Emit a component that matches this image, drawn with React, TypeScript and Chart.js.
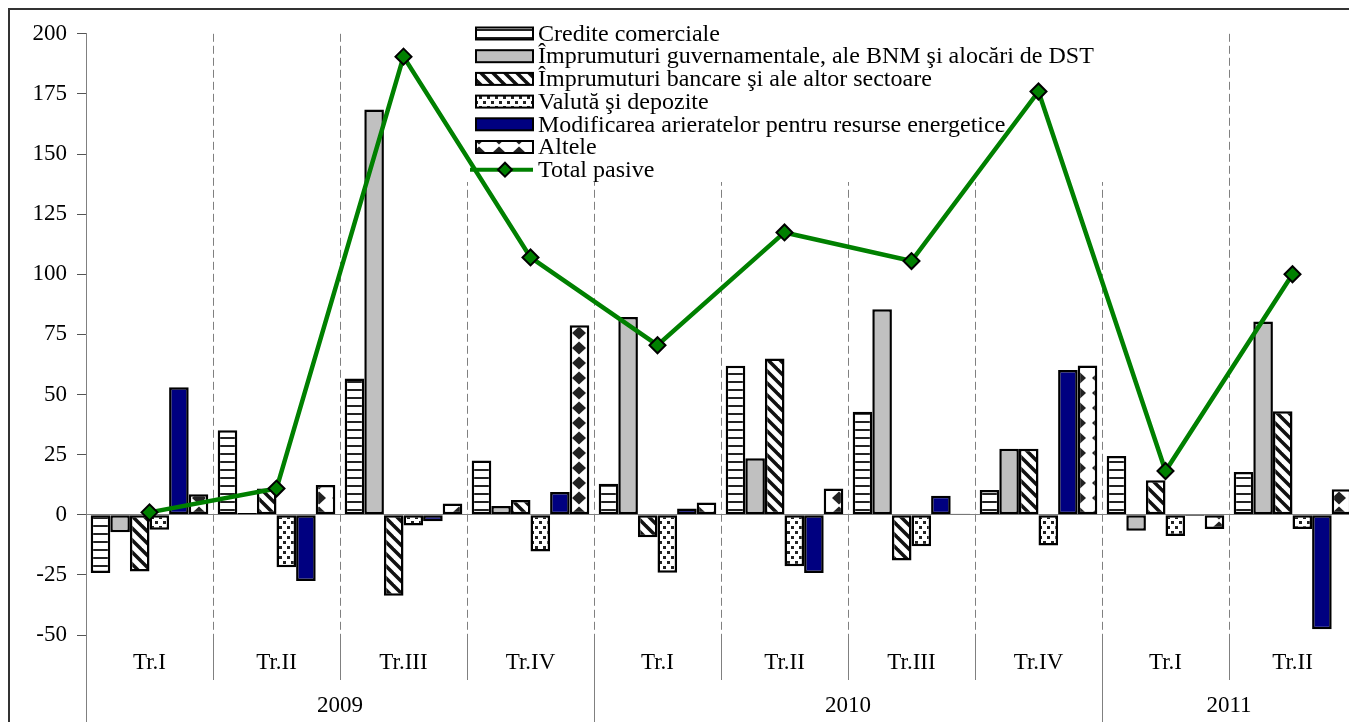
import React, { useEffect, useRef } from 'react';
import { Chart, registerables } from 'chart.js';

Chart.register(...registerables);

// ---------------- data ----------------
const quarters = ['Tr.I', 'Tr.II', 'Tr.III', 'Tr.IV', 'Tr.I', 'Tr.II', 'Tr.III', 'Tr.IV', 'Tr.I', 'Tr.II'];
const years = ['2009', '2010', '2011'];
const yearQuarterCounts = [4, 4, 2];

const crediteComerciale = [-24.2, 35.1, 56.7, 22.6, 12.9, 62.0, 42.8, 10.3, 24.4, 17.8];
const imprumuturiGuvernamentale = [-7.3, 0.7, 168.5, 3.6, 82.2, 23.5, 85.5, 27.4, -6.6, 80.4];
const imprumuturiBancare = [-23.6, 10.9, -33.7, 6.1, -9.4, 65.0, -19.0, 27.4, 14.3, 43.0];
const valutaDepozite = [-6.2, -21.8, -4.5, -15.3, -24.1, -21.4, -13.1, -12.8, -8.8, -5.9];
const modificareaArieratelor = [53.0, -27.5, -2.7, 9.5, 2.6, -24.2, 7.9, 60.2, -0.5, -47.6];
const altele = [8.5, 12.4, 4.7, 78.8, 5.1, 10.9, 0.4, 62.1, -5.9, 10.6];
const totalPasive = [1.0, 10.9, 190.5, 107.0, 70.5, 117.4, 105.5, 176.0, 18.2, 100.0];

const yMin = -50;
const yMax = 200;
const yStep = 25;

const seriesLabels = [
  'Credite comerciale',
  'Împrumuturi guvernamentale, ale BNM şi alocări de DST',
  'Împrumuturi bancare şi ale altor sectoare',
  'Valută şi depozite',
  'Modificarea arieratelor pentru resurse energetice',
  'Altele',
];
const lineLabel = 'Total pasive';

const FONT = "'Liberation Serif', 'Times New Roman', serif";

// ---------------- patterns ----------------
function tile(w: number, h: number, draw: (c: CanvasRenderingContext2D) => void): CanvasPattern {
  const cv = document.createElement('canvas');
  cv.width = w;
  cv.height = h;
  const c = cv.getContext('2d')!;
  c.fillStyle = '#fff';
  c.fillRect(0, 0, w, h);
  draw(c);
  const main = document.createElement('canvas').getContext('2d')!;
  return main.createPattern(cv, 'repeat')!;
}

function makePatterns() {
  const hlines = tile(8, 8, (c) => {
    c.fillStyle = '#222';
    c.fillRect(0, 3, 8, 2);
  });
  const diag = tile(12, 12, (c) => {
    c.strokeStyle = '#111';
    c.lineWidth = 3.5;
    for (const k of [-12, 0, 12]) {
      c.beginPath();
      c.moveTo(-2, k - 2);
      c.lineTo(14, k + 14);
      c.stroke();
    }
  });
  const dots = tile(8, 10, (c) => {
    c.fillStyle = '#222';
    c.fillRect(1, 1, 3, 3);
    c.fillRect(5, 6, 3, 3);
  });
  const diamonds = tile(20, 15, (c) => {
    c.fillStyle = '#222';
    c.beginPath();
    c.moveTo(9, 1.5);
    c.lineTo(16, 8);
    c.lineTo(9, 14.5);
    c.lineTo(2, 8);
    c.closePath();
    c.fill();
  });
  return [hlines, '#C0C0C0', diag, dots, '#000080', diamonds] as (string | CanvasPattern)[];
}

// ---------------- component ----------------
export default function App() {
  const ref = useRef<HTMLCanvasElement>(null);

  useEffect(() => {
    const canvas = ref.current!;
    const fills = makePatterns();
    const barSeries = [
      crediteComerciale,
      imprumuturiGuvernamentale,
      imprumuturiBancare,
      valutaDepozite,
      modificareaArieratelor,
      altele,
    ];

    const decor = {
      id: 'decor',
      beforeDatasetsDraw(chart: any) {
        const { ctx, chartArea: a } = chart;
        const n = quarters.length;
        const cw = (a.right - a.left) / n;
        ctx.save();
        // dashed category separators
        ctx.strokeStyle = '#808080';
        ctx.lineWidth = 1;
        ctx.setLineDash([8, 4]);
        for (let i = 1; i < n; i++) {
          const xx = Math.round(a.left + i * cw) + 0.5;
          ctx.beginPath();
          ctx.moveTo(xx, a.top);
          ctx.lineTo(xx, a.bottom);
          ctx.stroke();
        }
        ctx.setLineDash([]);

        // legend
        const lx = 466;
        const ly0 = 23.5;
        const dy = 22.7;
        ctx.fillStyle = '#fff';
        ctx.fillRect(lx - 14, 6, 1100 - lx + 14, 166);
        ctx.font = `24px ${FONT}`;
        ctx.textBaseline = 'middle';
        ctx.textAlign = 'left';
        for (let i = 0; i < seriesLabels.length; i++) {
          const cy = ly0 + i * dy;
          ctx.fillStyle = fills[i];
          ctx.fillRect(lx, cy - 6, 57, 12);
          ctx.strokeStyle = '#000';
          ctx.lineWidth = 2;
          ctx.strokeRect(lx, cy - 6, 57, 12);
          ctx.fillStyle = '#000';
          ctx.fillText(seriesLabels[i], lx + 62, cy + 1);
        }
        const cy = ly0 + seriesLabels.length * dy;
        ctx.strokeStyle = '#008000';
        ctx.lineWidth = 4;
        ctx.beginPath();
        ctx.moveTo(lx - 6, cy);
        ctx.lineTo(lx + 57, cy);
        ctx.stroke();
        ctx.beginPath();
        ctx.moveTo(lx + 29, cy - 7);
        ctx.lineTo(lx + 36, cy);
        ctx.lineTo(lx + 29, cy + 7);
        ctx.lineTo(lx + 22, cy);
        ctx.closePath();
        ctx.fillStyle = '#008000';
        ctx.fill();
        ctx.strokeStyle = '#000';
        ctx.lineWidth = 2;
        ctx.stroke();
        ctx.fillStyle = '#000';
        ctx.fillText(lineLabel, lx + 62, cy + 1);
        ctx.restore();
      },
      afterDraw(chart: any) {
        const { ctx, chartArea: a } = chart;
        const n = quarters.length;
        const cw = (a.right - a.left) / n;
        const H = chart.height;
        ctx.save();
        ctx.strokeStyle = '#808080';
        ctx.lineWidth = 1;
        // y-axis extension
        ctx.beginPath();
        ctx.moveTo(Math.round(a.left) + 0.5, a.bottom);
        ctx.lineTo(Math.round(a.left) + 0.5, H);
        ctx.stroke();
        // separators in label area
        const yearBounds = new Set<number>();
        let acc = 0;
        for (const c of yearQuarterCounts) {
          yearBounds.add(acc);
          acc += c;
        }
        for (let i = 1; i < n; i++) {
          const xx = Math.round(a.left + i * cw) + 0.5;
          ctx.beginPath();
          ctx.moveTo(xx, a.bottom);
          ctx.lineTo(xx, yearBounds.has(i) ? H : a.bottom + 45);
          ctx.stroke();
        }
        // quarter labels
        ctx.fillStyle = '#000';
        ctx.font = `23px ${FONT}`;
        ctx.textAlign = 'center';
        ctx.textBaseline = 'middle';
        for (let i = 0; i < n; i++) {
          ctx.fillText(quarters[i], a.left + (i + 0.5) * cw, a.bottom + 28);
        }
        // year labels
        acc = 0;
        for (let j = 0; j < years.length; j++) {
          const mid = a.left + (acc + yearQuarterCounts[j] / 2) * cw;
          ctx.fillText(years[j], mid, a.bottom + 71);
          acc += yearQuarterCounts[j];
        }
        ctx.restore();
      },
    };

    const chart = new Chart(canvas, {
      type: 'bar',
      data: {
        labels: quarters,
        datasets: [
          {
            type: 'line',
            label: lineLabel,
            data: totalPasive,
            borderColor: '#008000',
            borderWidth: 4.5,
            pointStyle: 'rectRot',
            pointRadius: 8,
            pointBackgroundColor: '#008000',
            pointBorderColor: '#000',
            pointBorderWidth: 2,
            tension: 0,
            order: 0,
          } as any,
          ...barSeries.map((d, i) => ({
            type: 'bar',
            label: seriesLabels[i],
            data: d,
            backgroundColor: fills[i],
            borderColor: '#000',
            borderWidth: 2.5,
            borderSkipped: false,
            categoryPercentage: 0.926,
            barPercentage: 1,
            order: 1,
          })),
        ],
      },
      options: {
        responsive: false,
        animation: false,
        layout: { padding: { left: 0, right: 14, top: 20, bottom: 95 } },
        plugins: {
          legend: { display: false },
          tooltip: { enabled: false },
        },
        scales: {
          x: { display: false, offset: true },
          y: {
            min: yMin,
            max: yMax,
            ticks: {
              stepSize: yStep,
              color: '#000',
              padding: 10,
              font: { family: FONT, size: 23 },
            },
            grid: {
              color: (c: any) => (c.tick && c.tick.value === 0 ? '#808080' : 'rgba(0,0,0,0)'),
              tickColor: '#555',
              tickLength: 9,
              lineWidth: 1,
            },
            border: { color: '#808080', width: 1 },
            afterFit: (s: any) => {
              s.width = 76;
            },
          },
        },
      },
      plugins: [decor],
    } as any);

    return () => chart.destroy();
  }, []);

  return (
    <div style={{ position: 'fixed', inset: 0, overflow: 'hidden', background: '#fff' }}>
      <div
        style={{
          position: 'absolute',
          left: 8,
          top: 8,
          border: '2px solid #333',
          width: 1360,
          height: 720,
        }}
      >
        <canvas ref={ref} width={1360} height={720} style={{ display: 'block' }} />
      </div>
    </div>
  );
}
